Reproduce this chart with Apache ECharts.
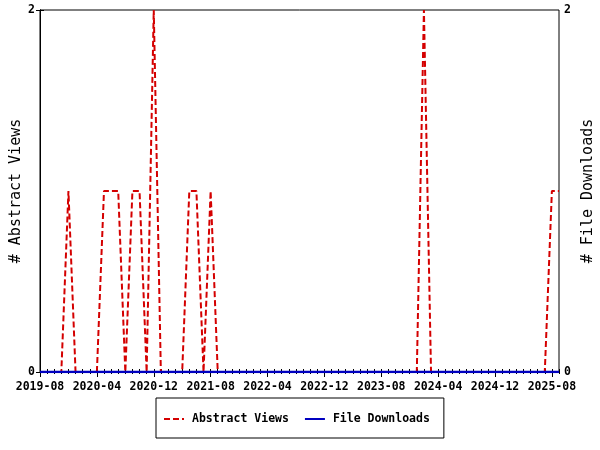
<!DOCTYPE html>
<html><head><meta charset="utf-8">
<script src="https://cdn.jsdelivr.net/npm/echarts@6/dist/echarts.min.js"></script>
<style>html,body{margin:0;padding:0;background:#fff}#c{width:600px;height:450px}</style>
</head><body><div id="c"></div>
<script>
// monthly series, first month 2019-08
const startYear = 2019, startMonth = 8;
const abstractViews = [
  0,0,0,0,1,0,0,0,0,1,1,1,0,1,1,0,2,0,0,0,0,1,1,0,1,0,
  0,0,0,0,0,0,0,0,0,0,0,0,0,0,0,0,0,0,0,0,0,0,0,0,0,0,0,0,
  2,
  0,0,0,0,0,0,0,0,0,0,0,0,0,0,0,0,0,
  1,1
];
const fileDownloads = [
  0,0,0,0,0,0,0,0,0,0,0,0,0,0,0,0,0,0,0,0,0,0,0,0,0,0,
  0,0,0,0,0,0,0,0,0,0,0,0,0,0,0,0,0,0,0,0,0,0,0,0,0,0,0,0,
  0,
  0,0,0,0,0,0,0,0,0,0,0,0,0,0,0,0,0,
  0,0
];
const yTicks = [0, 2];
const labelEvery = 8;

const monthLabels = [];
for (let i = 0; i < abstractViews.length; i++) {
  const m = startMonth - 1 + i;
  monthLabels.push((startYear + Math.floor(m / 12)) + '-' + String(m % 12 + 1).padStart(2, '0'));
}
const lastIdx = abstractViews.length - 1;
const allTicks = monthLabels.map((_, i) => i);
const majorTicks = allTicks.filter(i => i % labelEvery === 0);
const font = 'DejaVu Sans Mono';
const RED = '#d40000', BLUE = '#0000c0';

const chart = echarts.init(document.getElementById('c'), null, {renderer: 'canvas'});
const baseX = {type: 'value', min: 0, max: lastIdx, splitLine: {show: false}, gridIndex: 0, position: 'bottom'};
chart.setOption({
  animation: false,
  backgroundColor: '#fff',
  grid: {left: 40, right: 41, top: 10, bottom: 78, show: true, borderColor: '#000', borderWidth: 1,
         containLabel: false, outerBoundsMode: 'none'},
  legend: {
    left: 156, top: 398, orient: 'horizontal',
    padding: [15, 14, 13, 7], itemWidth: 20, itemHeight: 12, itemGap: 15,
    borderColor: '#000', borderWidth: 1,
    itemStyle: {opacity: 0},
    textStyle: {fontFamily: font, fontWeight: 'bold', fontSize: 11.5, color: '#000', padding: [0, 0, 0, 3]},
    data: ['Abstract Views', 'File Downloads']
  },
  xAxis: [
    Object.assign({}, baseX, {
      axisLine: {show: true, lineStyle: {color: '#000', width: 1}},
      axisTick: {show: true, customValues: majorTicks, length: 5, lineStyle: {color: '#000'}},
      axisLabel: {customValues: majorTicks, formatter: v => monthLabels[v], color: '#000',
        fontFamily: font, fontWeight: 'bold', fontSize: 11.5, margin: 9}
    }),
    Object.assign({}, baseX, {
      axisLine: {show: false}, axisLabel: {show: false},
      axisTick: {show: true, customValues: allTicks, length: 2, lineStyle: {color: '#000'}}
    }),
    Object.assign({}, baseX, {
      axisLine: {show: false}, axisLabel: {show: false},
      axisTick: {show: true, inside: true, customValues: allTicks, length: 3, lineStyle: {color: '#000'}}
    })
  ],
  yAxis: [
    {type: 'value', min: 0, max: 2, interval: 2, position: 'left',
     name: '# Abstract Views', nameLocation: 'middle', nameGap: 16, nameRotate: 90, nameMoveOverlap: false,
     nameTextStyle: {fontFamily: font, fontSize: 15, color: '#000'},
     axisLine: {show: true, lineStyle: {color: '#000'}},
     axisTick: {show: true, length: 4, lineStyle: {color: '#000'}},
     splitLine: {show: false},
     axisLabel: {color: '#000', fontFamily: font, fontWeight: 'bold', fontSize: 11.5, margin: 5,
       formatter: v => yTicks.includes(v) ? String(v) : ''}},
    {type: 'value', min: 0, max: 2, interval: 2, position: 'right',
     name: '# File Downloads', nameLocation: 'middle', nameGap: 22, nameRotate: 90, nameMoveOverlap: false,
     nameTextStyle: {fontFamily: font, fontSize: 15, color: '#000'},
     axisLine: {show: true, lineStyle: {color: '#000'}},
     axisTick: {show: true, length: 4, lineStyle: {color: '#000'}},
     splitLine: {show: false},
     axisLabel: {color: '#000', fontFamily: font, fontWeight: 'bold', fontSize: 11.5, margin: 5,
       formatter: v => yTicks.includes(v) ? String(v) : ''}}
  ],
  series: [
    {name: 'Abstract Views', type: 'line', xAxisIndex: 0, yAxisIndex: 0,
     data: abstractViews.map((v, i) => [i, v]), symbol: 'none',
     lineStyle: {color: RED, width: 2, type: [6, 3]}, itemStyle: {color: RED}},
    {name: 'File Downloads', type: 'line', xAxisIndex: 0, yAxisIndex: 1,
     data: fileDownloads.map((v, i) => [i, v]), symbol: 'none',
     lineStyle: {color: BLUE, width: 2.5}, itemStyle: {color: BLUE}}
  ]
});
</script>
</body></html>
